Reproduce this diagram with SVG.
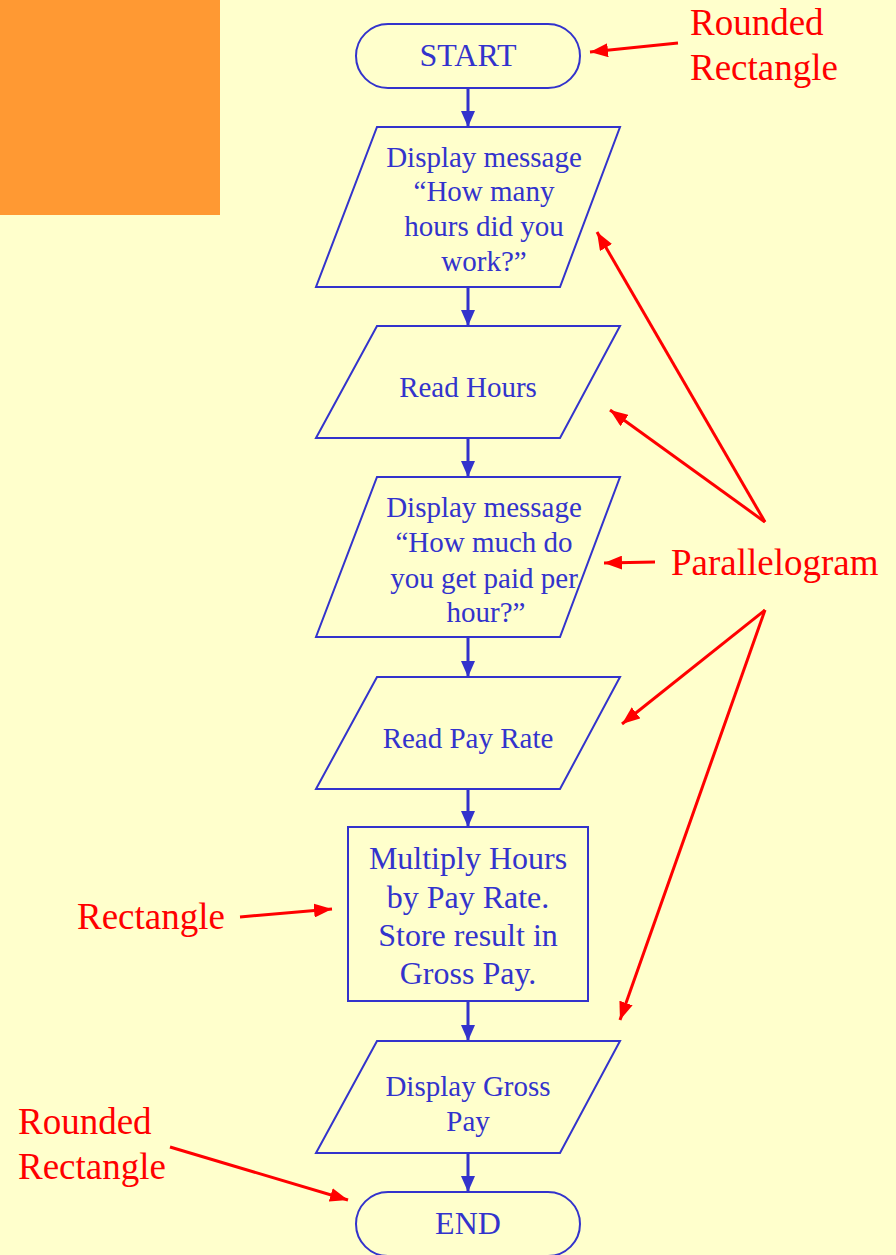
<svg xmlns="http://www.w3.org/2000/svg" width="896" height="1255" viewBox="0 0 896 1255">
<defs>
<style>
.shape{fill:none;stroke:#3333CC;stroke-width:2}
.flow{stroke:#3333CC;stroke-width:3;fill:none}
.callout{stroke:#FF0000;stroke-width:3;fill:none}
.t{font-family:"Liberation Serif","Times New Roman",serif;fill:#3333CC;font-size:29px;text-anchor:middle}
.tb{font-family:"Liberation Serif","Times New Roman",serif;fill:#3333CC;font-size:32px;text-anchor:middle}
.lbl{font-family:"Liberation Serif","Times New Roman",serif;fill:#FF0000;font-size:37px}
</style>
<marker id="ab" markerUnits="userSpaceOnUse" markerWidth="16" markerHeight="16" viewBox="0 0 16 16" refX="16" refY="8" orient="auto">
<path d="M0,1 L16,8 L0,15 Z" fill="#3333CC"/>
</marker>
<marker id="ar" markerUnits="userSpaceOnUse" markerWidth="18" markerHeight="14" viewBox="0 0 18 14" refX="18" refY="7" orient="auto">
<path d="M0,0 L18,7 L0,14 Z" fill="#FF0000"/>
</marker>
</defs>
<rect width="896" height="1255" fill="#FFFFCC"/>
<rect x="0" y="0" width="220" height="215" fill="#FF9933"/>

<g id="connectors">
<line class="flow" x1="468" y1="88" x2="468" y2="127" marker-end="url(#ab)"/>
<line class="flow" x1="468" y1="287" x2="468" y2="326" marker-end="url(#ab)"/>
<line class="flow" x1="468" y1="438" x2="468" y2="477" marker-end="url(#ab)"/>
<line class="flow" x1="468" y1="637" x2="468" y2="677" marker-end="url(#ab)"/>
<line class="flow" x1="468" y1="789" x2="468" y2="827" marker-end="url(#ab)"/>
<line class="flow" x1="468" y1="1001" x2="468" y2="1041" marker-end="url(#ab)"/>
<line class="flow" x1="468" y1="1153" x2="468" y2="1192" marker-end="url(#ab)"/>
</g>

<g id="start">
<rect class="shape" x="356" y="24" width="224" height="64" rx="32"/>
<text class="tb" x="468" y="66">START</text>
</g>

<g id="display-hours">
<polygon class="shape" points="377,127 620,127 560,287 316,287"/>
<text class="t" x="484" y="167">Display message</text>
<text class="t" x="484" y="201">“How many</text>
<text class="t" x="484" y="236">hours did you</text>
<text class="t" x="484" y="271">work?”</text>
</g>

<g id="read-hours">
<polygon class="shape" points="377,326 620,326 560,438 316,438"/>
<text class="t" x="468" y="397">Read Hours</text>
</g>

<g id="display-rate">
<polygon class="shape" points="377,477 620,477 560,637 316,637"/>
<text class="t" x="484" y="517">Display message</text>
<text class="t" x="484" y="552">“How much do</text>
<text class="t" x="484" y="588">you get paid per</text>
<text class="t" x="486" y="622">hour?”</text>
</g>

<g id="read-rate">
<polygon class="shape" points="377,677 620,677 560,789 316,789"/>
<text class="t" x="468" y="748">Read Pay Rate</text>
</g>

<g id="multiply">
<rect class="shape" x="348" y="827" width="240" height="174"/>
<text class="tb" x="468" y="869">Multiply Hours</text>
<text class="tb" x="468" y="908">by Pay Rate.</text>
<text class="tb" x="468" y="946">Store result in</text>
<text class="tb" x="468" y="984">Gross Pay.</text>
</g>

<g id="display-gross">
<polygon class="shape" points="377,1041 620,1041 560,1153 316,1153"/>
<text class="t" x="468" y="1096">Display Gross</text>
<text class="t" x="468" y="1131">Pay</text>
</g>

<g id="end">
<rect class="shape" x="356" y="1192" width="224" height="64" rx="32"/>
<text class="tb" x="468" y="1234">END</text>
</g>

<g id="callouts">
<line class="callout" x1="678" y1="43" x2="590" y2="52" marker-end="url(#ar)"/>
<line class="callout" x1="765" y1="522" x2="597" y2="232" marker-end="url(#ar)"/>
<line class="callout" x1="765" y1="522" x2="610" y2="410" marker-end="url(#ar)"/>
<line class="callout" x1="655" y1="562" x2="604" y2="563" marker-end="url(#ar)"/>
<line class="callout" x1="765" y1="610" x2="622" y2="724" marker-end="url(#ar)"/>
<line class="callout" x1="765" y1="610" x2="620" y2="1020" marker-end="url(#ar)"/>
<line class="callout" x1="240" y1="917" x2="332" y2="909" marker-end="url(#ar)"/>
<line class="callout" x1="170" y1="1147" x2="348" y2="1200" marker-end="url(#ar)"/>
</g>

<g id="labels">
<text class="lbl" x="690" y="35">Rounded</text>
<text class="lbl" x="690" y="80">Rectangle</text>
<text class="lbl" x="671" y="575">Parallelogram</text>
<text class="lbl" x="77" y="929">Rectangle</text>
<text class="lbl" x="18" y="1134">Rounded</text>
<text class="lbl" x="18" y="1179">Rectangle</text>
</g>
</svg>
